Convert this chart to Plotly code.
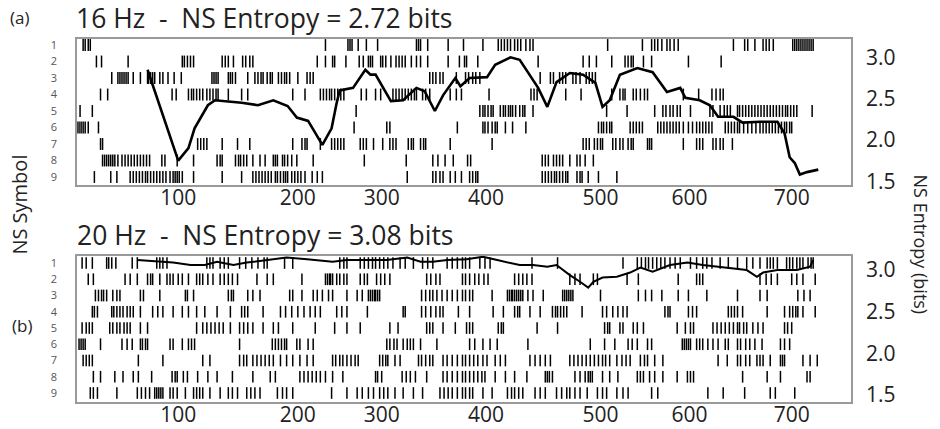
import plotly.graph_objects as go

# ---------------- data (time index) ----------------
# Panel (a) 16 Hz: event times for NS symbols 1..9
a1 = [6, 8, 11, 13, 243, 265, 267, 269, 275, 283, 294, 332, 334, 336, 343, 363, 378, 397, 412, 415, 418, 421, 424, 428, 431, 434, 439, 443, 446, 519, 553, 562, 565, 568, 572, 577, 580, 584, 588, 642, 653, 656, 663, 671, 674, 677, 681, 700, 702, 704, 706, 708, 710, 712, 714, 716, 718, 720]
a2 = [19, 24, 50, 103, 105, 108, 111, 114, 142, 145, 148, 153, 162, 165, 169, 172, 235, 243, 250, 252, 263, 276, 280, 285, 287, 289, 297, 299, 302, 307, 312, 315, 318, 321, 327, 332, 336, 343, 363, 374, 379, 381, 392, 451, 495, 501, 508, 523, 536, 539, 542, 544, 554, 562, 598, 630]
a3 = [34, 40, 42, 44, 46, 48, 50, 55, 62, 69, 70, 72, 74, 76, 81, 84, 89, 95, 102, 132, 134, 136, 138, 148, 150, 152, 155, 167, 174, 177, 180, 182, 186, 189, 191, 197, 200, 203, 205, 208, 216, 225, 228, 231, 345, 348, 351, 355, 358, 371, 380, 383, 387, 390, 394, 453, 463, 466, 472, 475, 478, 485, 488, 492, 498, 501, 504, 507]
a4 = [23, 30, 93, 97, 109, 112, 114, 117, 120, 123, 127, 130, 133, 136, 138, 148, 161, 167, 211, 223, 238, 241, 244, 247, 249, 252, 255, 258, 261, 278, 283, 292, 297, 309, 312, 315, 318, 321, 324, 327, 330, 332, 338, 341, 345, 365, 371, 376, 403, 444, 447, 450, 478, 493, 523, 531, 534, 536, 544, 547, 551, 555, 558, 593, 608, 621, 625, 629, 632]
a5 = [3, 15, 273, 394, 397, 399, 402, 405, 407, 414, 417, 419, 422, 424, 426, 429, 433, 436, 438, 446, 518, 538, 565, 573, 576, 580, 583, 587, 590, 600, 619, 622, 629, 633, 636, 639, 646, 648, 651, 654, 657, 660, 663, 666, 669, 672, 675, 678, 681, 684, 687, 690, 693, 695, 698, 701, 704, 719]
a6 = [0, 2, 4, 6, 8, 11, 21, 271, 303, 306, 372, 397, 399, 402, 406, 409, 411, 419, 426, 439, 510, 513, 515, 518, 521, 523, 541, 544, 547, 550, 553, 568, 571, 574, 577, 580, 583, 586, 589, 593, 598, 602, 606, 609, 612, 615, 618, 621, 634, 637, 640, 643, 646, 648, 652, 656, 660, 664, 668, 671, 674, 677, 680, 683, 686, 689, 692, 694, 697, 699]
a7 = [23, 25, 118, 121, 124, 127, 142, 157, 169, 211, 220, 223, 225, 238, 249, 252, 255, 258, 261, 277, 280, 283, 290, 299, 306, 309, 312, 324, 327, 329, 336, 339, 341, 365, 406, 495, 498, 501, 506, 509, 512, 514, 524, 527, 531, 534, 539, 542, 544, 558, 560, 562, 593, 606, 609, 612, 622, 625, 629, 632, 641]
a8 = [25, 27, 29, 31, 33, 35, 37, 40, 44, 47, 50, 53, 56, 59, 62, 65, 68, 71, 83, 86, 98, 114, 137, 140, 142, 155, 158, 160, 163, 166, 172, 179, 184, 192, 194, 196, 201, 203, 206, 210, 215, 231, 281, 322, 348, 353, 360, 368, 382, 385, 455, 458, 461, 466, 469, 472, 475, 482, 489, 492, 497, 505]
a9 = [17, 33, 39, 52, 55, 58, 61, 64, 67, 69, 72, 75, 78, 81, 84, 87, 91, 94, 96, 98, 100, 103, 114, 142, 161, 172, 175, 178, 181, 184, 187, 190, 194, 196, 199, 202, 204, 206, 210, 213, 216, 219, 223, 230, 235, 240, 323, 348, 351, 355, 358, 365, 370, 376, 384, 387, 390, 392, 455, 458, 461, 464, 467, 469, 472, 475, 478, 480, 489, 492, 494, 500, 510, 528]

# Panel (a) entropy curve
a_ent_t = [69, 99, 109, 115, 128, 135, 161, 177, 192, 206, 215, 226, 240, 249, 254, 257, 270, 282, 287, 292, 307, 319, 332, 340, 350, 358, 370, 375, 384, 401, 409, 424, 433, 451, 460, 469, 482, 495, 507, 514, 521, 531, 548, 563, 577, 590, 595, 609, 619, 627, 642, 651, 668, 685, 692, 697, 702, 707, 714, 725]
a_ent_bits = [2.85, 1.75, 1.90, 2.14, 2.42, 2.48, 2.45, 2.42, 2.48, 2.41, 2.27, 2.23, 1.94, 2.14, 2.45, 2.60, 2.63, 2.85, 2.79, 2.79, 2.47, 2.48, 2.63, 2.59, 2.35, 2.54, 2.75, 2.65, 2.75, 2.76, 2.91, 3.00, 2.97, 2.63, 2.40, 2.70, 2.81, 2.79, 2.69, 2.40, 2.48, 2.79, 2.87, 2.82, 2.58, 2.63, 2.51, 2.48, 2.42, 2.28, 2.28, 2.21, 2.22, 2.22, 2.08, 1.79, 1.72, 1.58, 1.61, 1.64]

# Panel (b) 20 Hz: event times for NS symbols 1..9
b1 = [5, 9, 15, 29, 31, 34, 38, 54, 59, 78, 81, 84, 88, 127, 130, 133, 140, 144, 148, 159, 165, 171, 177, 183, 186, 203, 211, 257, 261, 264, 277, 281, 285, 289, 292, 296, 300, 304, 309, 316, 321, 329, 338, 343, 348, 362, 367, 372, 377, 380, 384, 394, 399, 404, 445, 470, 534, 548, 552, 556, 559, 563, 567, 571, 575, 580, 585, 590, 600, 606, 612, 616, 621, 629, 637, 646, 655, 661, 668, 675, 678, 681, 685, 694, 697, 700, 704, 707, 710, 715, 718, 720]
b2 = [11, 16, 47, 52, 59, 69, 72, 74, 81, 88, 91, 94, 99, 103, 109, 117, 120, 123, 128, 133, 140, 144, 148, 152, 157, 176, 186, 192, 220, 243, 245, 247, 248, 250, 254, 257, 261, 264, 277, 281, 284, 293, 297, 301, 306, 342, 346, 351, 355, 377, 380, 384, 389, 393, 398, 402, 428, 432, 436, 440, 445, 482, 487, 492, 505, 509, 538, 549, 588, 606, 609, 612, 668, 674, 679, 685, 699, 704, 710, 722]
b3 = [18, 21, 24, 26, 29, 35, 39, 42, 62, 65, 81, 106, 108, 114, 148, 151, 153, 167, 172, 179, 208, 211, 220, 231, 235, 240, 246, 250, 264, 274, 279, 285, 287, 289, 291, 292, 294, 296, 337, 341, 345, 348, 352, 357, 362, 367, 372, 377, 380, 384, 387, 406, 421, 423, 425, 426, 428, 430, 432, 434, 436, 441, 446, 456, 475, 477, 479, 481, 483, 485, 512, 549, 556, 562, 572, 588, 598, 616, 646, 668, 675, 705, 711, 717]
b4 = [15, 17, 20, 34, 36, 39, 42, 45, 49, 52, 55, 62, 74, 79, 84, 94, 103, 109, 117, 125, 137, 150, 161, 164, 167, 182, 199, 204, 210, 216, 222, 228, 233, 238, 254, 259, 264, 284, 319, 321, 337, 341, 346, 351, 355, 358, 373, 384, 407, 417, 428, 431, 433, 443, 453, 465, 468, 470, 473, 476, 479, 494, 514, 518, 524, 529, 534, 538, 575, 578, 580, 598, 602, 606, 637, 640, 643, 646, 651, 675, 692, 697, 700, 703, 705, 710, 722]
b5 = [5, 9, 12, 15, 32, 35, 39, 42, 46, 49, 52, 62, 69, 117, 123, 127, 131, 135, 139, 143, 150, 159, 163, 167, 172, 182, 192, 197, 211, 233, 252, 264, 277, 306, 314, 342, 345, 348, 358, 370, 381, 384, 387, 412, 415, 417, 450, 470, 516, 519, 521, 531, 534, 544, 548, 554, 587, 595, 600, 603, 622, 626, 630, 634, 638, 642, 646, 648, 652, 655, 661, 666, 671, 692, 695, 699]
b6 = [2, 4, 6, 8, 23, 44, 49, 54, 62, 64, 67, 69, 91, 94, 103, 109, 112, 115, 159, 191, 194, 197, 200, 203, 205, 215, 218, 226, 231, 303, 306, 310, 313, 319, 323, 326, 329, 336, 352, 384, 389, 397, 404, 411, 441, 502, 516, 526, 539, 543, 548, 558, 562, 592, 594, 596, 598, 600, 606, 609, 612, 617, 622, 627, 634, 637, 646, 649, 654, 658, 663, 670, 688, 692, 697]
b7 = [6, 9, 12, 15, 60, 84, 123, 130, 159, 163, 166, 172, 176, 180, 184, 188, 192, 199, 205, 211, 218, 225, 231, 250, 253, 257, 260, 264, 268, 272, 275, 296, 299, 302, 304, 311, 316, 334, 337, 341, 345, 348, 358, 362, 367, 372, 377, 380, 384, 388, 392, 397, 401, 409, 414, 419, 443, 448, 453, 458, 463, 482, 486, 490, 494, 498, 502, 506, 510, 514, 517, 521, 528, 533, 537, 541, 551, 555, 558, 565, 573, 627, 636, 646, 649, 654, 658, 665, 668, 671, 678, 688, 690, 692, 710, 717, 724]
b8 = [16, 23, 37, 45, 55, 60, 73, 93, 96, 98, 104, 108, 118, 128, 137, 152, 172, 189, 194, 218, 222, 226, 230, 234, 238, 243, 250, 260, 292, 294, 298, 318, 322, 326, 331, 342, 358, 362, 367, 372, 377, 380, 384, 388, 392, 396, 399, 409, 419, 428, 440, 458, 460, 462, 465, 487, 492, 497, 500, 502, 504, 514, 521, 529, 548, 551, 554, 560, 565, 573, 587, 597, 600, 603, 651, 675, 688, 714, 717]
b9 = [13, 16, 20, 39, 59, 63, 67, 71, 76, 78, 80, 82, 84, 91, 94, 98, 106, 114, 117, 120, 123, 130, 140, 148, 152, 157, 166, 170, 174, 179, 196, 201, 205, 211, 249, 264, 274, 279, 285, 290, 296, 300, 304, 311, 319, 329, 338, 355, 359, 363, 367, 372, 377, 380, 384, 387, 397, 406, 421, 425, 428, 432, 436, 448, 453, 458, 469, 474, 479, 482, 487, 492, 499, 509, 514, 518, 528, 534, 539, 562, 568, 617, 632, 653, 678, 683, 702]

# Panel (b) entropy curve
b_ent_t = [59, 78, 94, 111, 125, 137, 153, 166, 186, 205, 225, 238, 250, 264, 284, 303, 323, 336, 348, 362, 381, 397, 411, 433, 446, 460, 469, 482, 492, 500, 505, 514, 528, 541, 551, 563, 580, 597, 612, 632, 655, 665, 671, 685, 704, 717, 720]
b_ent_bits = [3.12, 3.10, 3.09, 3.06, 3.06, 3.10, 3.06, 3.09, 3.12, 3.15, 3.13, 3.11, 3.10, 3.12, 3.12, 3.12, 3.15, 3.10, 3.10, 3.12, 3.13, 3.16, 3.12, 3.06, 3.06, 3.04, 3.06, 2.94, 2.86, 2.79, 2.86, 2.91, 2.92, 2.97, 3.03, 2.98, 3.06, 3.09, 3.06, 3.03, 3.00, 2.92, 2.97, 3.00, 3.00, 3.04, 3.12]

# tick labels
symbols = [1, 2, 3, 4, 5, 6, 7, 8, 9]
x_tick_text = ["100", "200", "300", "400", "500", "600", "700"]
x_tick_pos = [99, 216, 298, 400, 512, 599, 699]   # label placement as in the figure
ent_tick_vals = [1.5, 2.0, 2.5, 3.0]
ent_tick_text = ["1.5", "2.0", "2.5", "3.0"]

FONT = "Open Sans"
TXT = "#222222"
BOX = "#9a9a9a"
NB = "\u00a0"


def raster(rows, xa, ya):
    xs, ys = [], []
    for sym, row in zip(symbols, rows):
        for t in row:
            xs += [t, t, None]
            ys += [sym - 0.36, sym + 0.36, None]
    return go.Scatter(x=xs, y=ys, mode="lines", xaxis=xa, yaxis=ya,
                      line=dict(color="black", width=1.5),
                      hoverinfo="skip", showlegend=False)


fig = go.Figure()
fig.add_trace(raster([a1, a2, a3, a4, a5, a6, a7, a8, a9], "x", "y"))
fig.add_trace(go.Scatter(x=a_ent_t, y=a_ent_bits, mode="lines", xaxis="x", yaxis="y3",
                         line=dict(color="black", width=2.6), showlegend=False))
fig.add_trace(raster([b1, b2, b3, b4, b5, b6, b7, b8, b9], "x2", "y2"))
fig.add_trace(go.Scatter(x=b_ent_t, y=b_ent_bits, mode="lines", xaxis="x2", yaxis="y4",
                         line=dict(color="black", width=2.0), showlegend=False))

xcommon = dict(range=[0, 757], tickvals=x_tick_pos, ticktext=x_tick_text,
               showline=True, mirror=True, linecolor=BOX, linewidth=1.5,
               showgrid=False, zeroline=False, ticks="", automargin=False,
               ticklabelstandoff=-7,
               tickfont=dict(size=21, color=TXT, family=FONT))
symcommon = dict(tickvals=symbols, ticktext=[str(s) for s in symbols],
                 showline=True, mirror=True, linecolor=BOX, linewidth=1.5,
                 showgrid=False, zeroline=False, ticks="", ticklabelstandoff=16,
                 automargin=False,
                 tickfont=dict(size=11, color="#555555", family=FONT))
entcommon = dict(side="right", tickvals=ent_tick_vals, ticktext=ent_tick_text,
                 showline=False, showgrid=False, zeroline=False, ticks="",
                 ticklabelstandoff=14, automargin=False,
                 tickfont=dict(size=21, color=TXT, family=FONT))

title_a = "16 Hz" + NB * 2 + "-" + NB * 2 + "NS Entropy = 2.72 bits"
title_b = "20 Hz" + NB * 2 + "-" + NB * 2 + "NS Entropy = 3.08 bits"

fig.update_layout(
    width=940, height=429,
    margin=dict(l=77, r=89, t=39, b=27),
    paper_bgcolor="white", plot_bgcolor="white",
    font=dict(family=FONT, color=TXT),
    xaxis=dict(domain=[0, 1], anchor="y", **xcommon),
    xaxis2=dict(domain=[0, 1], anchor="y2", **xcommon),
    yaxis=dict(domain=[0.5978, 1.0], anchor="x", range=[9.485, 0.636], **symcommon),
    yaxis2=dict(domain=[0.0, 0.4022], anchor="x2", range=[9.554, 0.569], **symcommon),
    yaxis3=dict(overlaying="y", anchor="x", range=[1.454, 3.222], **entcommon),
    yaxis4=dict(overlaying="y2", anchor="x2", range=[1.415, 3.169], **entcommon),
    annotations=[
        dict(text="(a)", x=-0.074, y=1.058, xref="paper", yref="paper", showarrow=False,
             font=dict(size=17, color=TXT, family=FONT), xanchor="center", yanchor="middle"),
        dict(text=title_a, x=-0.004, y=1.058, xref="paper", yref="paper",
             showarrow=False, font=dict(size=26.5, color=TXT, family=FONT),
             xanchor="left", yanchor="middle"),
        dict(text=title_b, x=-0.002, y=0.46, xref="paper", yref="paper",
             showarrow=False, font=dict(size=26.5, color=TXT, family=FONT),
             xanchor="left", yanchor="middle"),
        dict(text="(b)", x=-0.071, y=0.212, xref="paper", yref="paper", showarrow=False,
             font=dict(size=17, color=TXT, family=FONT), xanchor="center", yanchor="middle"),
        dict(text="NS Symbol", x=-0.074, y=0.543, xref="paper", yref="paper", showarrow=False,
             textangle=-90, font=dict(size=20, color=TXT, family=FONT),
             xanchor="center", yanchor="middle"),
        dict(text="NS Entropy (bits)", x=1.091, y=0.4325, xref="paper", yref="paper",
             showarrow=False, textangle=90, font=dict(size=18, color=TXT, family=FONT),
             xanchor="center", yanchor="middle"),
    ],
)

fig.write_html("out.html", config={"displayModeBar": False},
               post_script="document.body.style.margin='0';")
